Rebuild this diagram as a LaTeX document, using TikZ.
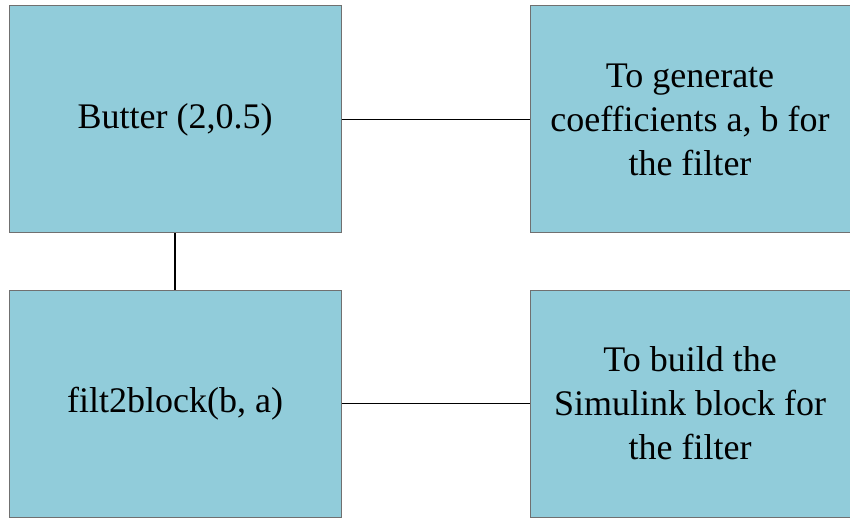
\documentclass[tikz,border=0pt]{standalone}
\usepackage{fontspec}
\setmainfont{Liberation Serif}
\usetikzlibrary{positioning}
\definecolor{boxblue}{RGB}{145,204,218}
\definecolor{boxgrey}{RGB}{112,112,112}
\tikzset{box node/.style={rectangle,fill=boxblue,draw=boxgrey,line width=1pt,minimum width=332pt,minimum height=227pt,inner sep=0pt,align=center,font=\fontsize{36}{44}\selectfont},}
\begin{document}
\begin{tikzpicture}[x=1pt,y=1pt]
    \useasboundingbox (0,0) rectangle (850,517);
    \node[box node] (butter) at (175,397.5) {Butter (2,0.5)};
    \node[box node, minimum width=320pt] (coef) [right = 188pt of butter] {To generate\\coefficients a, b for\\the filter};
    \node[box node] (filt) [below = 56pt of butter] {filt2block(b, a)};
    \node[box node, minimum width=320pt] (build) [right = 188pt of filt] {To build the\\Simulink block for\\the filter};

    \path[line width=1.6pt, black]
	(butter) edge (coef)
	(butter) edge (filt)
	(filt) edge (build);
\end{tikzpicture}
\end{document}
